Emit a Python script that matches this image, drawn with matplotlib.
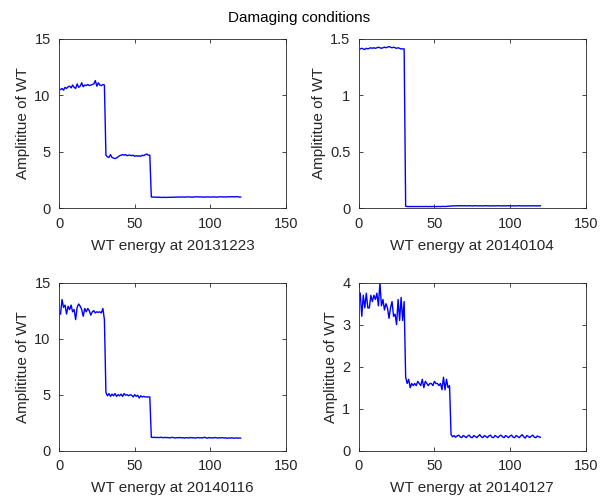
import numpy as np
import matplotlib
matplotlib.use("Agg")
import matplotlib.pyplot as plt

plt.rcParams['font.family'] = ['Liberation Sans', 'DejaVu Sans']

# values, sample index 1..120
p1_hi = [10.5, 10.6, 10.45, 10.7, 10.6, 10.75, 10.8, 10.65, 10.9, 10.7,
         10.6, 11.0, 10.7, 10.8, 11.1, 10.75, 10.9, 10.85, 10.95, 10.85,
         10.9, 10.95, 11.0, 11.3, 10.8, 11.1, 10.9, 10.85, 10.95, 10.9]
p1_mid = [4.7, 4.55, 4.5, 4.75, 4.5, 4.45, 4.4, 4.45, 4.55, 4.65,
          4.7, 4.75, 4.7, 4.75, 4.65, 4.7, 4.7, 4.65, 4.7, 4.6,
          4.65, 4.6, 4.65, 4.6, 4.7, 4.65, 4.75, 4.8, 4.7, 4.7]
p1_lo = [1.0, 1.0, 0.98, 0.99, 0.97, 0.98, 0.97, 0.96, 0.97, 0.97,
         0.96, 0.97, 0.98, 0.97, 0.98, 0.99, 0.98, 0.99, 1.0, 0.99,
         1.0, 1.0, 0.99, 1.0, 1.01, 1.0, 1.0, 0.99, 1.0, 1.01,
         1.02, 1.0, 1.01, 1.0, 1.0, 0.99, 1.0, 1.01, 1.0, 0.99,
         1.0, 1.01, 1.0, 0.99, 1.0, 1.01, 1.02, 1.0, 1.01, 1.0,
         1.01, 1.02, 1.01, 1.03, 1.02, 1.01, 1.03, 1.02, 1.0, 1.0]

p2_hi = [1.41, 1.415, 1.41, 1.405, 1.415, 1.41, 1.415, 1.42, 1.415, 1.42,
         1.415, 1.42, 1.425, 1.42, 1.415, 1.42, 1.425, 1.42, 1.425, 1.43,
         1.425, 1.42, 1.425, 1.42, 1.415, 1.42, 1.415, 1.41, 1.41, 1.41]
p2_lo = [0.018, 0.016, 0.015, 0.016, 0.015, 0.016, 0.015, 0.016, 0.015, 0.016,
         0.015, 0.016, 0.015, 0.016, 0.016, 0.015, 0.016, 0.015, 0.016, 0.016,
         0.015, 0.016, 0.016, 0.015, 0.016, 0.017, 0.016, 0.017, 0.018, 0.019,
         0.02, 0.021, 0.022, 0.021, 0.022, 0.023, 0.022, 0.023, 0.022, 0.023,
         0.022, 0.022, 0.023, 0.022, 0.021, 0.022, 0.023, 0.022, 0.021, 0.022,
         0.022, 0.021, 0.022, 0.023, 0.022, 0.022, 0.021, 0.022, 0.022, 0.021,
         0.022, 0.023, 0.022, 0.021, 0.022, 0.022, 0.021, 0.022, 0.023, 0.022,
         0.021, 0.022, 0.022, 0.021, 0.022, 0.023, 0.022, 0.021, 0.022, 0.022,
         0.021, 0.022, 0.022, 0.021, 0.022, 0.022, 0.021, 0.022, 0.022, 0.022]

p3_hi = [12.2, 13.5, 12.8, 13.0, 12.2, 12.9, 12.6, 13.0, 12.4, 12.6,
         11.7, 12.8, 13.1, 12.9, 12.6, 12.0, 12.7, 12.4, 12.7, 12.5,
         12.1, 12.4, 12.5, 12.3, 12.4, 12.35, 12.4, 12.3, 12.7, 11.7]
p3_mid = [5.2, 4.9, 5.1, 4.85, 5.05, 4.9, 5.1, 4.85, 5.0, 4.9,
          5.05, 4.85, 5.1, 4.95, 5.0, 4.9, 5.0, 4.95, 4.8, 5.0,
          4.85, 4.95, 4.7, 4.9, 4.8, 4.85, 4.8, 4.8, 4.8, 4.8]
p3_lo = [1.2, 1.18, 1.2, 1.17, 1.19, 1.16, 1.2, 1.18, 1.15, 1.19,
         1.16, 1.18, 1.14, 1.17, 1.19, 1.15, 1.13, 1.17, 1.15, 1.18,
         1.14, 1.16, 1.12, 1.17, 1.15, 1.13, 1.18, 1.14, 1.16, 1.12,
         1.15, 1.18, 1.13, 1.16, 1.14, 1.2, 1.15, 1.12, 1.17, 1.14,
         1.16, 1.13, 1.18, 1.15, 1.12, 1.16, 1.14, 1.17, 1.13, 1.15,
         1.1, 1.14, 1.12, 1.15, 1.13, 1.11, 1.14, 1.12, 1.13, 1.12]

p4_hi = [3.75, 3.2, 3.7, 3.4, 3.75, 3.4, 3.4, 3.7, 3.55, 3.7,
         3.6, 3.75, 3.45, 4.0, 3.45, 3.6, 3.35, 3.5, 3.4, 3.15,
         3.4, 3.55, 3.2, 3.25, 3.0, 3.6, 3.1, 3.65, 3.1, 3.55]
p4_mid = [1.75, 1.6, 1.7, 1.5, 1.6, 1.55, 1.6, 1.55, 1.65, 1.6,
          1.55, 1.7, 1.5, 1.65, 1.6, 1.55, 1.6, 1.6, 1.55, 1.65,
          1.6, 1.6, 1.55, 1.6, 1.45, 1.75, 1.45, 1.7, 1.5, 1.55]
p4_lo = [0.38, 0.33, 0.36, 0.32, 0.35, 0.37, 0.33, 0.31, 0.36, 0.34,
         0.31, 0.35, 0.37, 0.32, 0.31, 0.36, 0.34, 0.31, 0.35, 0.38,
         0.33, 0.31, 0.36, 0.34, 0.31, 0.35, 0.37, 0.32, 0.31, 0.36,
         0.34, 0.31, 0.35, 0.37, 0.33, 0.31, 0.36, 0.34, 0.31, 0.35,
         0.37, 0.32, 0.31, 0.36, 0.34, 0.31, 0.35, 0.38, 0.33, 0.30,
         0.36, 0.34, 0.31, 0.35, 0.37, 0.32, 0.31, 0.35, 0.33, 0.32]

series = [p1_hi + p1_mid + p1_lo,
          p2_hi + p2_lo,
          p3_hi + p3_mid + p3_lo,
          p4_hi + p4_mid + p4_lo]
dates = ['20131223', '20140104', '20140116', '20140127']
ylims = [(0, 15), (0, 1.5), (0, 15), (0, 4)]
yticks = [[0, 5, 10, 15], [0, 0.5, 1, 1.5], [0, 5, 10, 15], [0, 1, 2, 3, 4]]

fig = plt.figure(figsize=(6.07, 5.04), dpi=100)
gray = '#262626'
boxes = [[0.0972, 0.5867, 0.374, 0.3365],
         [0.591, 0.5867, 0.374, 0.3365],
         [0.0972, 0.1058, 0.374, 0.3333],
         [0.591, 0.1058, 0.374, 0.3333]]

for i in range(4):
    ax = fig.add_axes(boxes[i])
    y = np.array(series[i])
    x = np.arange(1, len(y) + 1)
    ax.plot(x, y, color='blue', linewidth=1.0)
    ax.set_xlim(0, 150)
    ax.set_ylim(*ylims[i])
    ax.set_xticks([0, 50, 100, 150])
    ax.set_yticks(yticks[i])
    ax.set_yticklabels([('%g' % v) for v in yticks[i]])
    ax.tick_params(direction='in', top=True, right=True, length=3,
                   width=0.6, labelsize=10.5, colors=gray, pad=6)
    for s in ax.spines.values():
        s.set_linewidth(0.6)
        s.set_color(gray)
    ax.set_xlabel('WT energy at ' + dates[i], fontsize=11, color=gray, labelpad=6)
    ax.set_ylabel('Amplititue of WT', fontsize=11, color=gray, labelpad=3)

fig.text(0.493, 0.965, 'Damaging conditions', ha='center', va='center',
         fontsize=11, color='black')

fig.savefig('out.png', dpi=100)
